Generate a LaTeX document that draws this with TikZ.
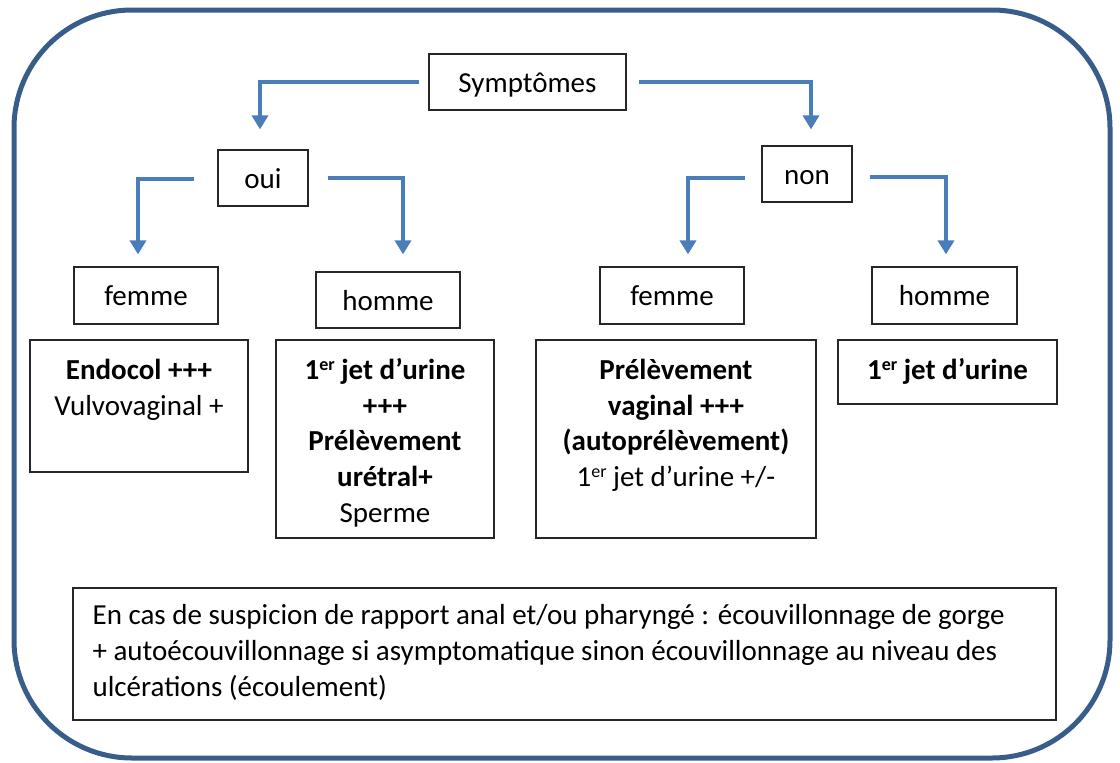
\documentclass[tikz,border=0pt]{standalone}
\usepackage{fontspec}
\setmainfont{Carlito}
\usetikzlibrary{arrows.meta}
\definecolor{framec}{RGB}{56,93,138}
\definecolor{arrowc}{RGB}{74,126,187}
\newcommand\supx[1]{\raisebox{0.33em}{\fontsize{18}{18}\selectfont #1}}
\begin{document}
\begin{tikzpicture}[x=1pt,y=-1pt,
  every node/.style={font=\fontsize{29}{35.7}\selectfont},
  box/.style={draw=black!85, line width=1.2pt, inner sep=0pt, text height=20pt, text depth=0pt},
  txt/.style={inner sep=0pt, align=center},
  arr/.style={draw=arrowc, line width=3.8pt, line join=miter, -{Triangle[width=16pt,length=14pt]}}]
\useasboundingbox (0,0) rectangle (1120,763);
% outer frame
\node[draw=framec, line width=5pt, rounded corners=118pt, minimum width=1096pt, minimum height=748pt, inner sep=0pt] (frame) at (562,384) {};
% top level boxes
\node[box, minimum width=197pt, minimum height=56pt] (sym) at (527.5,82) {Symptômes};
\node[box, minimum width=90pt, minimum height=56pt] (oui) at (263,178) {oui};
\node[box, minimum width=90pt, minimum height=56pt] (non) at (807,174) {non};
\node[box, minimum width=144pt, minimum height=57pt] (femL) at (146,295.5) {femme};
\node[box, minimum width=144pt, minimum height=56pt] (homL) at (388,300) {homme};
\node[box, minimum width=144pt, minimum height=57pt] (femR) at (672,295.5) {femme};
\node[box, minimum width=145pt, minimum height=57pt] (homR) at (944.5,295.5) {homme};
% result boxes
\node[box, minimum width=218pt, minimum height=132pt] (endo) at (139,406) {};
\node[box, minimum width=218pt, minimum height=198pt] (jet) at (385,439) {};
\node[box, minimum width=280pt, minimum height=198pt] (pv) at (676,439) {};
\node[box, minimum width=219pt, minimum height=64pt] (jetR) at (947.5,372) {};
\node[box, minimum width=983pt, minimum height=132pt] (note) at (564.5,654) {};
% texts
\node[txt, anchor=north] (endoT) at ([yshift=-15pt]endo.north) {\strut\textbf{Endocol +++}\\Vulvovaginal +};
\node[txt, anchor=north] (jetT) at ([yshift=-15pt]jet.north) {\strut\textbf{1\supx{er} jet d’urine}\\\textbf{+++}\\\textbf{Prélèvement}\\\textbf{urétral+}\\Sperme};
\node[txt, anchor=north] (pvT) at ([yshift=-15pt]pv.north) {\strut\textbf{Prélèvement}\\\textbf{vaginal +++}\\\textbf{(autoprélèvement)}\\1\supx{er} jet d’urine +/-};
\node[txt, anchor=north] (jetRT) at ([yshift=-15pt]jetR.north) {\strut\textbf{1\supx{er} jet d’urine}};
\node[inner sep=0pt, align=left, anchor=north west, font=\fontsize{29}{36}\selectfont] (noteT) at ([xshift=20pt,yshift=-12pt]note.north west) {\strut En cas de suspicion de rapport anal et/ou pharyngé : écouvillonnage de gorge\\+ autoécouvillonnage si asymptomatique sinon écouvillonnage au niveau des\\ulcérations (écoulement)};
% arrows
\draw[arr] ([xshift=-9pt]sym.west) -| ([xshift=-3pt,yshift=20pt]oui.north);
\draw[arr] ([xshift=12pt]sym.east) -| ([xshift=4pt,yshift=16pt]non.north);
\draw[arr] ([xshift=-23pt,yshift=-1pt]oui.west) -| ([xshift=-8pt,yshift=12pt]femL.north);
\draw[arr] ([xshift=19pt]oui.east) -| ([xshift=15pt,yshift=17pt]homL.north);
\draw[arr] ([xshift=-16pt,yshift=-4pt]non.west) -| ([xshift=16pt,yshift=12pt]femR.north);
\draw[arr] ([xshift=17pt,yshift=-3pt]non.east) -| ([xshift=1.5pt,yshift=12pt]homR.north);
\end{tikzpicture}
\end{document}
